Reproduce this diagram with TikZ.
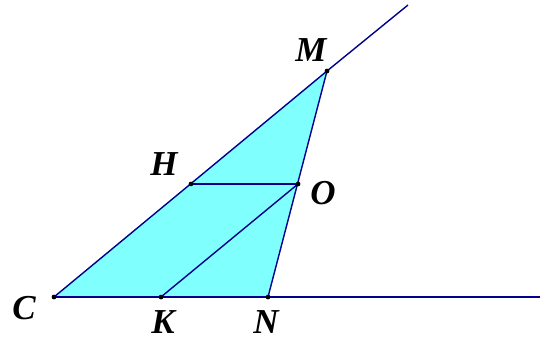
\documentclass[tikz,border=0pt]{standalone}
\usepackage{fontspec}
\setmainfont{Liberation Serif}
\usetikzlibrary{positioning}
\definecolor{aqua}{RGB}{128,255,255}
\definecolor{navy}{RGB}{0,0,140}

\begin{document}
\begin{tikzpicture}[x=1pt, y=-1pt,
  seg/.style={navy, line width=1.4pt},
  pt/.style={circle, fill=black, inner sep=0pt, minimum size=4.5pt},
  lbl/.style={inner sep=0pt, font=\fontsize{35}{35}\selectfont\bfseries\itshape}
]
\useasboundingbox (0,0) rectangle (542,343);
% points
\node[pt] (C) at (54,297) {};
\node[pt] (K) at (161,297) {};
\node[pt] (N) at (268,297) {};
\node[pt] (M) at (327,71) {};
\node[pt] (H) at (191,184) {};
\node[pt] (O) at (298,184) {};
\coordinate (E) at (540,297);
\coordinate (F) at (408,5);

\fill[aqua] (C.center) -- (M.center) -- (N.center) -- cycle;

\draw[seg] (C.center) -- (N.center);
\draw[seg] (N.center) -- (E);
\draw[seg] (C.center) -- (M.center);
\draw[seg] (M.center) -- (F);
\draw[seg] (M.center) -- (N.center);
\draw[seg] (H.center) -- (O.center);
\draw[seg] (K.center) -- (O.center);

% dots on top
\foreach \p in {C,K,N,M,H,O} \fill (\p) circle (2.3pt);

\node[lbl] (lC) at (24,308) {C};
\node[lbl] (lK) at (163,322) {K};
\node[lbl] (lN) at (266,322) {N};
\node[lbl] (lH) at (164,164) {H};
\node[lbl] (lO) at (323,193) {O};
\node[lbl] (lM) at (311,50) {M};
\end{tikzpicture}
\end{document}
